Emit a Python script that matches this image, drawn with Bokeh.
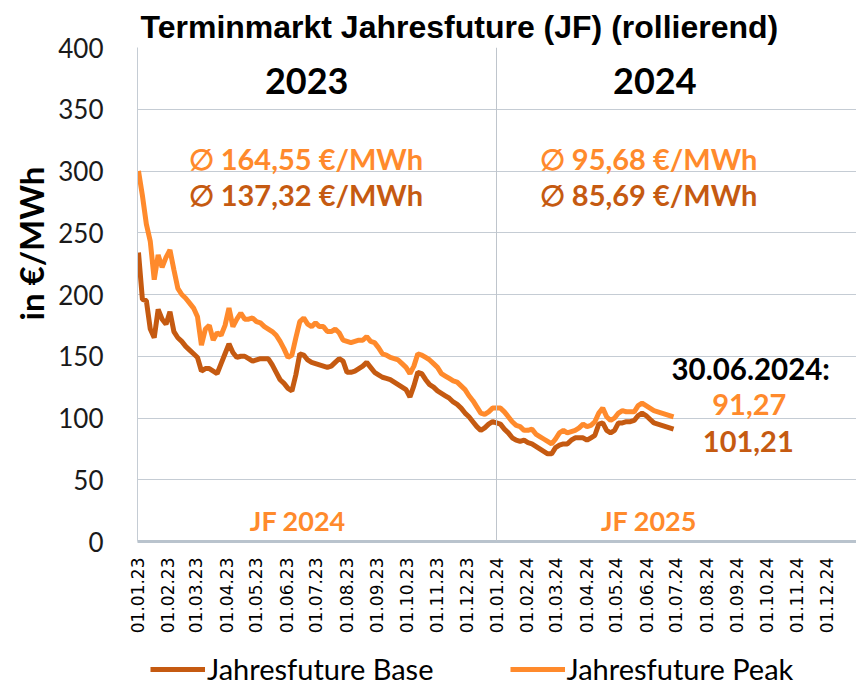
import math
import pandas as pd
from bokeh.plotting import figure
from bokeh.layouts import column
from bokeh.models import (Range1d, FixedTicker, DatetimeTickFormatter, Label, Span,
                          Legend, LegendItem, Title)
from bokeh.embed import file_html
from bokeh.resources import INLINE

# ---------------- data ----------------
# Jahresfuture Peak, sampled every 4 days from 02.01.2023
peak = [300, 280, 257, 243, 212, 232, 222, 230, 236, 220,
        205, 200, 197, 193, 189, 182, 159, 172, 175, 163,
        169, 167, 175, 189, 174, 180, 185, 180, 180, 181,
        178, 177, 174, 172, 170, 167, 162, 156, 149, 151,
        165, 178, 181, 176, 174, 177, 174, 174, 170, 170,
        172, 169, 163, 162, 161, 162, 163, 163, 166, 162,
        161, 157, 152, 151, 149, 148, 147, 144, 141, 136,
        142, 152, 151, 149, 147, 144, 141, 136, 134, 132,
        130, 129, 126, 123, 118, 114, 109, 104, 103, 105,
        108, 108, 108, 105, 101, 97, 94, 93, 90, 90,
        91, 87, 85, 83, 81, 79, 83, 88, 90, 88,
        89, 90, 92, 95, 93, 94, 97, 104, 108, 101,
        98, 100, 104, 106, 105, 105, 105, 110, 112, 110,
        108, 106, 105, 104, 103, 102, 101]
# Jahresfuture Base, same sampling days
base = [234, 196, 195, 172, 165, 188, 180, 176, 186, 170,
        165, 162, 158, 155, 152, 149, 138, 140, 140, 138,
        136, 144, 152, 160, 153, 149, 150, 150, 148, 146,
        147, 148, 148, 148, 143, 137, 131, 128, 124, 122,
        135, 152, 151, 147, 145, 144, 143, 142, 141, 142,
        145, 148, 146, 137, 137, 138, 140, 142, 145, 141,
        137, 135, 133, 132, 131, 129, 127, 125, 123, 117,
        126, 137, 136, 131, 127, 125, 122, 120, 118, 116,
        113, 111, 108, 104, 101, 97, 93, 90, 92, 95,
        97, 96, 95, 91, 88, 84, 82, 81, 82, 80,
        79, 77, 75, 73, 71, 71, 76, 78, 79, 79,
        82, 84, 84, 84, 82, 84, 86, 95, 96, 90,
        88, 90, 96, 96, 97, 97, 98, 102, 104, 102,
        99, 96, 95, 94, 93, 92, 91]
first_day = "2023-01-02"
sample_step = "4D"
dates = pd.date_range(first_day, periods=len(peak), freq=sample_step)

month_ticks = pd.date_range("2023-01-01", "2024-12-01", freq="MS")
y_ticks = [0, 50, 100, 150, 200, 250, 300, 350, 400]

series_names = ["Jahresfuture Base", "Jahresfuture Peak"]
years = ["2023", "2024"]
avg_peak = ["\u2205 164,55 \u20ac/MWh", "\u2205 95,68 \u20ac/MWh"]
avg_base = ["\u2205 137,32 \u20ac/MWh", "\u2205 85,69 \u20ac/MWh"]
jf_labels = ["JF 2024", "JF 2025"]
last_date_label = "30.06.2024:"
last_peak_label = "91,27"
last_base_label = "101,21"
year_split = "2024-01-01"
title_text = "Terminmarkt Jahresfuture (JF) (rollierend)"
y_title = "in \u20ac/MWh"

# ---------------- styling ----------------
C_BASE = "#C55A11"
C_PEAK = "#FF8A2C"
GRID = "#C5CCD4"
FONT = "Lato"

def d(s):
    return pd.Timestamp(s)

p = figure(width=856, height=641, x_axis_type="datetime",
           output_backend="svg", toolbar_location=None,
           x_range=Range1d(d("2023-01-01"), d("2025-01-01")),
           y_range=Range1d(0, 400),
           min_border_left=137, min_border_right=0, min_border_top=47,
           min_border_bottom=100)
p.outline_line_color = None
p.background_fill_color = "white"
p.border_fill_color = "white"

p.title.text = title_text
p.title.text_font = "Liberation Sans"
p.title.text_font_style = "bold"
p.title.text_font_size = "32px"
p.title.align = "left"
p.title.offset = 3
p.title.standoff = 6
p.title.text_color = "black"

# y title on the left, shifted upward like the reference
ytitle = Title(text=y_title, align="left", offset=221, standoff=10,
               text_font=FONT, text_font_style="bold", text_font_size="33px",
               text_color="black")
p.add_layout(ytitle, "left")

# axes
p.yaxis.ticker = FixedTicker(ticks=y_ticks)
p.yaxis.major_tick_line_color = None
p.yaxis.minor_tick_line_color = None
p.yaxis.axis_line_color = GRID
p.yaxis.major_label_text_font = FONT
p.yaxis.major_label_text_font_size = "26px"
p.yaxis.major_label_text_color = "#1a1a1a"
p.yaxis.major_label_standoff = 28

tick_ms = [int(t.value // 10**6) for t in month_ticks]
p.xaxis.ticker = FixedTicker(ticks=tick_ms)
fmt = "%d.%m.%y"
p.xaxis.formatter = DatetimeTickFormatter(days=fmt, months=fmt, years=fmt, hours=fmt,
                                          minutes=fmt, seconds=fmt, milliseconds=fmt,
                                          microseconds=fmt, hourmin=fmt, minsec=fmt)
p.xaxis.major_label_orientation = math.pi / 2
p.xaxis.major_label_text_font = "DejaVu Sans"
p.xaxis.major_label_text_font_size = "17px"
p.xaxis.major_label_text_color = "black"
p.xaxis.major_label_standoff = 10
p.xaxis.major_tick_line_color = None
p.xaxis.minor_tick_line_color = None
p.xaxis.axis_line_color = "#B9C3CD"
p.xaxis.axis_line_width = 3

p.ygrid.grid_line_color = GRID
p.ygrid.grid_line_width = 1
p.xgrid.grid_line_color = None

p.add_layout(Span(location=d(year_split), dimension="height", line_color="#BFC5CC", line_width=1))

r_base = p.line(dates, base, line_color=C_BASE, line_width=5)
r_peak = p.line(dates, peak, line_color=C_PEAK, line_width=5)

def lab(x, y, text, color, size, align="center", bold=True, font=FONT):
    p.add_layout(Label(x=d(x), y=y, text=text, text_color=color, text_font=font,
                       text_font_size=size, text_font_style="bold" if bold else "normal",
                       text_align=align, text_baseline="middle"))

lab("2023-06-22", 373, years[0], "black", "36px")
lab("2024-06-10", 373, years[1], "black", "36px")
lab("2023-02-22", 310, avg_peak[0], C_PEAK, "29px", align="left")
lab("2023-02-22", 281, avg_base[0], C_BASE, "29px", align="left")
lab("2024-02-14", 310, avg_peak[1], C_PEAK, "29px", align="left")
lab("2024-02-14", 281, avg_base[1], C_BASE, "29px", align="left")
lab("2024-12-05", 140, last_date_label, "black", "29.5px", align="right")
lab("2024-09-14", 111, last_peak_label, C_PEAK, "29px")
lab("2024-09-13", 81, last_base_label, C_BASE, "29px")
lab("2023-06-13", 17, jf_labels[0], C_PEAK, "27px")
lab("2024-06-04", 17, jf_labels[1], C_PEAK, "27px")

# ---------------- legend strip below the chart ----------------
lg = figure(width=856, height=45, output_backend="svg", toolbar_location=None,
            x_range=Range1d(0, 1), y_range=Range1d(0, 1),
            min_border_left=0, min_border_right=0, min_border_top=0, min_border_bottom=0)
lg.axis.visible = False
lg.grid.visible = False
lg.outline_line_color = None
lg.background_fill_color = "white"
lg.border_fill_color = "white"
# legend proxies: same series, lying outside this strip's ranges
k_base = lg.line(x=dates, y=base, line_color=C_BASE, line_width=5)
k_peak = lg.line(x=dates, y=peak, line_color=C_PEAK, line_width=5)
legend = Legend(items=[LegendItem(label=series_names[0], renderers=[k_base]),
                       LegendItem(label=series_names[1], renderers=[k_peak])],
                location=(13, 0), orientation="horizontal",
                glyph_width=55, glyph_height=32, label_standoff=2, spacing=76,
                padding=0, margin=0, border_line_color=None,
                background_fill_alpha=0,
                label_text_font=FONT, label_text_font_size="29px",
                label_text_color="black")
lg.add_layout(legend, "center")

layout = column(p, lg, spacing=0)
open("out.html", "w").write(file_html(layout, INLINE))
